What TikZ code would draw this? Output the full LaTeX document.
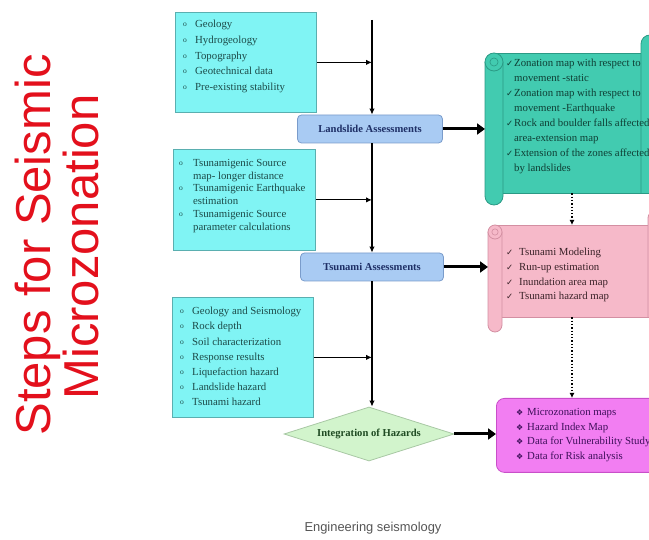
\documentclass[tikz,border=0pt]{standalone}
\usepackage{fontspec}
\setmainfont{Liberation Serif}
\newfontfamily\arialf{Liberation Sans}
\newfontfamily\djv{DejaVu Sans}
\usetikzlibrary{arrows.meta,shapes.geometric}

\definecolor{cyanfill}{HTML}{80F4F4}
\definecolor{cyanline}{HTML}{5AAFB0}
\definecolor{cyantext}{HTML}{1C4A48}
\definecolor{bluefill}{HTML}{A9CBF3}
\definecolor{blueline}{HTML}{7A9CCB}
\definecolor{bluetext}{HTML}{1E2F66}
\definecolor{greenfill}{HTML}{D2F4CC}
\definecolor{greenline}{HTML}{A8C8A4}
\definecolor{greentext}{HTML}{1F4A22}
\definecolor{tealfill}{HTML}{42CBB0}
\definecolor{tealline}{HTML}{2B9A85}
\definecolor{tealtext}{HTML}{0F3F35}
\definecolor{pinkfill}{HTML}{F6B9C9}
\definecolor{pinkline}{HTML}{D38FA2}
\definecolor{pinktext}{HTML}{3A2228}
\definecolor{magfill}{HTML}{F27EF2}
\definecolor{magline}{HTML}{C94FC9}
\definecolor{magtext}{HTML}{3E0F5A}
\definecolor{titlered}{HTML}{E3101C}
\definecolor{capgray}{HTML}{555555}

\newcommand{\ob}[1][12pt]{\makebox[#1][l]{\raisebox{1pt}{\fontsize{7.5}{7.5}\selectfont o}}}
\newcommand{\ck}[1][8pt]{\makebox[#1][l]{{\djv\fontsize{8.5}{8.5}\selectfont ✓}}}
\newcommand{\dm}[1][11pt]{\makebox[#1][l]{{\djv\fontsize{8}{8}\selectfont ❖}}}

% scroll: L T R B r drop fill line
\newcommand{\scrollshape}[8]{%
  \filldraw[fill=#7, draw=#8, line width=0.8pt] (#1+#5,#2) -- (#3,#2) -- (#3,#4) -- (#1+#5,#4) -- cycle;
  \filldraw[fill=#7, draw=#8, line width=0.8pt, rounded corners=#5pt]
     (#3-2*#5,#4) -- (#3-2*#5,#2-2*#5) -- (#3,#2-2*#5) -- (#3,#4);
  \filldraw[fill=#7, draw=#8, line width=0.8pt, rounded corners=#5pt]
     (#1,#2+#5) -- (#1,#4+#6) -- (#1+2*#5,#4+#6) -- (#1+2*#5,#2+#5);
  \filldraw[fill=#7, draw=#8, line width=0.8pt] (#1+#5,#2+#5) circle (#5pt);
  \draw[#8, line width=0.6pt] (#1+#5,#2+#5) circle (0.45*#5pt);
}

\begin{document}
\begin{tikzpicture}[x=1pt,y=-1pt,
  inbox/.style={draw=cyanline, fill=cyanfill, line width=0.8pt, inner sep=0pt, anchor=north west},
  txt/.style={inner sep=0pt, anchor=north west, align=left},
  assess/.style={draw=blueline, fill=bluefill, rounded corners=4pt, minimum height=28pt,
     font=\bfseries\fontsize{10.6}{12}\selectfont, text=bluetext, line width=0.8pt},
  flow/.style={-{Latex[length=6pt,width=5.5pt]}, line width=1.2pt},
  big/.style={-{Triangle[length=8pt,width=11pt]}, line width=3pt},
  dots/.style={dotted, line width=1.3pt, -{Latex[length=5pt,width=5pt]}},
  frame/.style={inner sep=0pt, anchor=north west}
]
\useasboundingbox (0,0) rectangle (649,540);
\clip (0,0) rectangle (649,540);

% title
\node[rotate=90, anchor=base, text=titlered, font=\arialf\fontsize{49}{50}\selectfont] (title1) at (50,245) {Steps for Seismic};
\node[rotate=90, anchor=base, text=titlered, font=\arialf\fontsize{49}{50}\selectfont] (title2) at (98,247) {Microzonation};

% input boxes
\node[inbox, minimum width=141pt, minimum height=100pt] (b1) at (175,12) {};
\node[txt, text=cyantext, font=\fontsize{10.8}{15.7}\selectfont] (t1) at (183,20)
  {\ob Geology\\ \ob Hydrogeology\\ \ob Topography\\ \ob Geotechnical data\\ \ob Pre-existing stability};

\node[inbox, minimum width=142pt, minimum height=101pt] (b2) at (173,149) {};
\node[txt, text=cyantext, font=\fontsize{10.8}{12.8}\selectfont] (t2) at (179,159)
  {\ob[14pt]Tsunamigenic Source\\ \hspace*{14pt}map- longer distance\\ \ob[14pt]Tsunamigenic Earthquake\\
   \hspace*{14pt}estimation\\ \ob[14pt]Tsunamigenic Source\\ \hspace*{14pt}parameter calculations};

\node[inbox, minimum width=141pt, minimum height=120pt] (b3) at (172,297) {};
\node[txt, text=cyantext, font=\fontsize{10.8}{15.2}\selectfont] (t3) at (180,307)
  {\ob Geology and Seismology\\ \ob Rock depth\\ \ob Soil characterization\\ \ob Response results\\
   \ob Liquefaction hazard\\ \ob Landslide hazard\\ \ob Tsunami hazard};

% main column
\coordinate (top) at (372,20);
\coordinate (jx) at (372,0);
\node[assess, minimum width=145pt] (land) at (370,129) {Landslide Assessments};
\node[assess, minimum width=143pt] (tsu) at (372,267) {Tsunami Assessments};
\node[diamond, aspect=3.3, draw=greenline, fill=greenfill, line width=0.8pt, minimum width=170pt,
      minimum height=54pt, inner sep=1pt, text=greentext, font=\bfseries\fontsize{10.6}{12}\selectfont]
      (diam) at (369,434) {Integration of Hazards};

\draw[flow] (top) -- (top |- land.north);
\draw[flow] (land.south -| jx) -- (tsu.north -| jx);
\draw[flow] (tsu.south -| jx) -- (diam.north -| jx);

\draw[flow] (b1.east) -- (b1.east -| jx);
\draw[flow] (b2.east) -- (b2.east -| jx);
\draw[flow] (b3.east) -- (b3.east -| jx);

% output scrolls
\scrollshape{485}{53}{659}{193}{9}{12}{tealfill}{tealline}
\node[frame, minimum width=170pt, minimum height=140pt] (s1) at (485,53) {};
\node[txt, text=tealtext, font=\fontsize{10.8}{15}\selectfont] (ts1) at (506,59)
  {\ck Zonation map with respect to\\ \hspace*{8pt}movement -static\\
   \ck Zonation map with respect to\\ \hspace*{8pt}movement -Earthquake\\
   \ck Rock and boulder falls affected\\ \hspace*{8pt}area-extension map\\
   \ck Extension of the zones affected\\ \hspace*{8pt}by landslides};

\scrollshape{488}{225}{662}{317}{7}{15}{pinkfill}{pinkline}
\node[frame, minimum width=170pt, minimum height=92pt] (s2) at (488,225) {};
\node[txt, text=pinktext, font=\fontsize{10.8}{14.7}\selectfont] (ts2) at (506,248)
  {\ck[13pt]Tsunami Modeling\\ \ck[13pt]Run-up estimation\\ \ck[13pt]Inundation area map\\ \ck[13pt]Tsunami hazard map};

\node[frame, draw=magline, fill=magfill, line width=0.8pt, rounded corners=8pt,
      minimum width=170pt, minimum height=74pt] (mg) at (496,398) {};
\node[txt, text=magtext, font=\fontsize{10.8}{14.7}\selectfont] (tm) at (516,408)
  {\dm Microzonation maps\\ \dm Hazard Index Map\\ \dm Data for Vulnerability Study\\ \dm Data for Risk analysis};

% connectors to outputs
\coordinate (dx) at (572,0);
\draw[big] (land.east) -- (land.east -| s1.west);
\draw[big] (tsu.east) -- (tsu.east -| s2.west);
\draw[big] (diam.east) -- (diam.east -| mg.west);
\draw[dots] (s1.south -| dx) -- (s2.north -| dx);
\draw[dots] (s2.south -| dx) -- (mg.north -| dx);

% caption
\node[text=capgray, font=\arialf\fontsize{12.9}{14}\selectfont] (cap) at (373,528) {Engineering seismology};
\end{tikzpicture}
\end{document}
